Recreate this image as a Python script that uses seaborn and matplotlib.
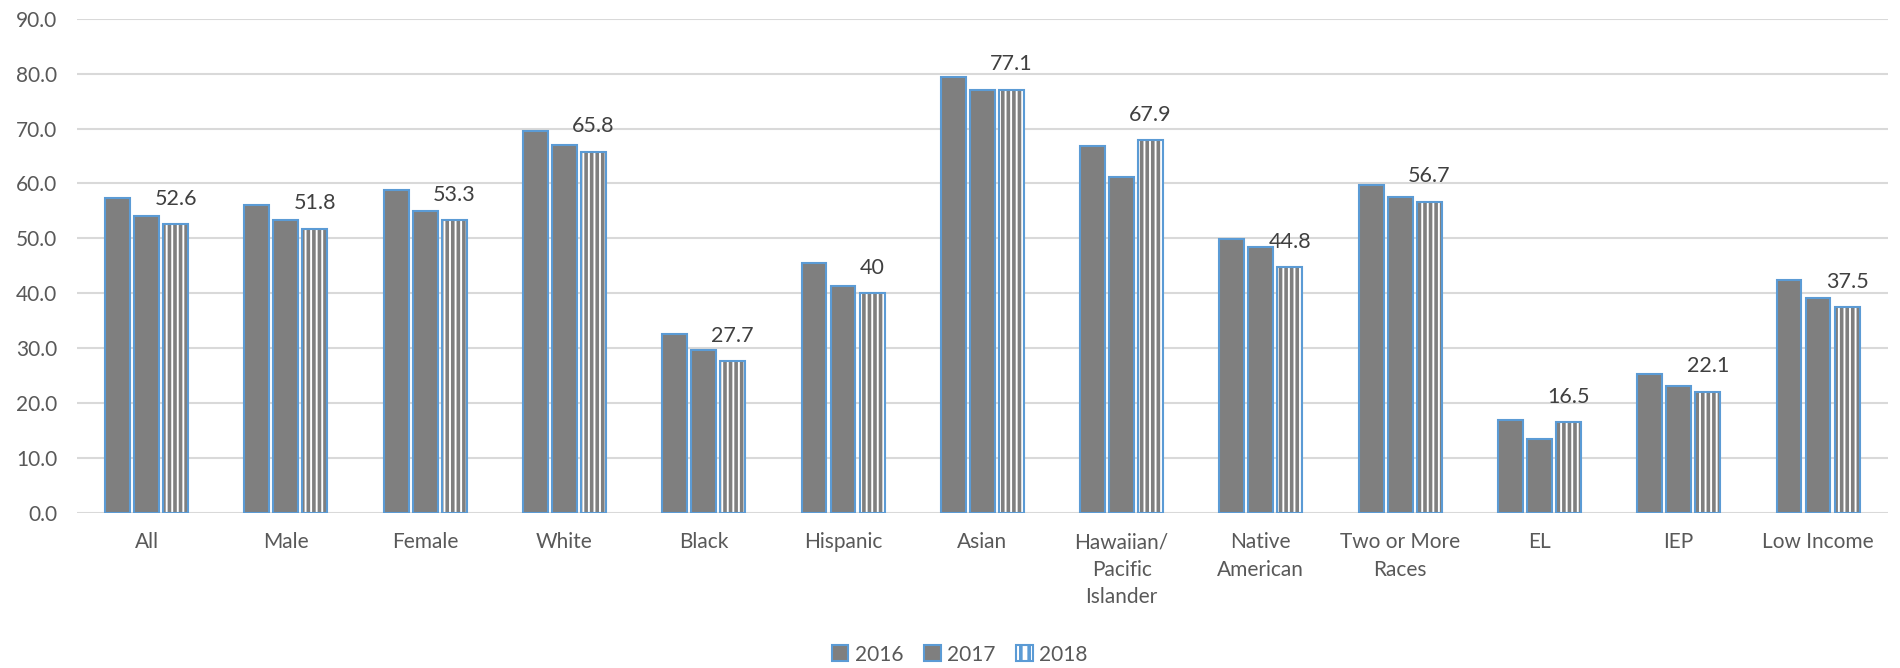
import pandas as pd
import numpy as np
import matplotlib
matplotlib.use("Agg")
import matplotlib.pyplot as plt
import seaborn as sns
from matplotlib.patches import Patch, Rectangle

# Datos
groups = ["All", "Male", "Female", "White", "Black", "Hispanic", "Asian",
          "Hawaiian/\nPacific\nIslander", "Native\nAmerican", "Two or More\nRaces",
          "EL", "IEP", "Low Income"]
years = ["2016", "2017", "2018"]
vals_2016 = [57.4, 56.1, 58.8, 69.5, 32.6, 45.6, 79.4, 66.8, 49.9, 59.7, 17.0, 25.4, 42.4]
vals_2017 = [54.1, 53.3, 55.0, 67.0, 29.7, 41.4, 77.1, 61.2, 48.5, 57.6, 13.5, 23.2, 39.1]
vals_2018 = [52.6, 51.8, 53.3, 65.8, 27.7, 40.0, 77.1, 67.9, 44.8, 56.7, 16.5, 22.1, 37.5]
labels_2018 = ["52.6", "51.8", "53.3", "65.8", "27.7", "40", "77.1", "67.9", "44.8",
               "56.7", "16.5", "22.1", "37.5"]

GRAY = "#7f7f7f"
BLUE = "#5b9bd5"
TEXT = "#595959"

df = pd.DataFrame({
    "group": groups * 3,
    "year": [y for y in years for _ in groups],
    "value": vals_2016 + vals_2017 + vals_2018,
})

sns.set_style("white")
plt.rcParams["font.family"] = ["Lato", "DejaVu Sans"]
plt.rcParams["hatch.linewidth"] = 2.6

fig = plt.figure(figsize=(19, 6.68), dpi=100)
ax = fig.add_axes([0.0405, 0.232, 0.953, 0.740])

sns.barplot(data=df, x="group", y="value", hue="year", order=groups, hue_order=years,
            palette=[GRAY, GRAY, GRAY], width=0.625, gap=0.14,
            edgecolor=BLUE, linewidth=1.5, legend=False, ax=ax, errorbar=None)

# barras 2018: rayado vertical gris, borde azul
n = len(groups)
bars_2018 = ax.patches[2 * n:3 * n]
for p, lab in zip(bars_2018, labels_2018):
    p.set_facecolor("white")
    p.set_edgecolor(GRAY)
    p.set_linewidth(0)
    p.set_hatch("|||")
    ax.add_patch(Rectangle((p.get_x(), p.get_y()), p.get_width(), p.get_height(),
                           fill=False, edgecolor=BLUE, linewidth=1.5, zorder=p.get_zorder() + 0.1))
    ax.annotate(lab, (p.get_x() + p.get_width() / 2, p.get_height()),
                xytext=(0, 11), textcoords="offset points", ha="center", va="bottom",
                fontsize=15.5, color="#404040")

ax.set_ylim(0, 90)
ax.set_xlim(-0.5, n - 0.5)
ax.set_yticks(np.arange(0, 91, 10))
ax.set_yticklabels([f"{v:.1f}" for v in np.arange(0, 91, 10)])
ax.yaxis.grid(True, color="#d9d9d9", linewidth=1.5)
ax.set_axisbelow(True)
sns.despine(ax=ax, left=True, bottom=True)
ax.tick_params(axis="y", length=0, pad=14, labelsize=15, labelcolor=TEXT)
ax.tick_params(axis="x", length=0, pad=14, labelsize=15, labelcolor=TEXT)
for t in ax.get_xticklabels():
    t.set_linespacing(1.45)
    t.set_verticalalignment("top")
ax.set_xlabel("")
ax.set_ylabel("")

handles = [Patch(facecolor=GRAY, edgecolor=BLUE, linewidth=1.5),
           Patch(facecolor=GRAY, edgecolor=BLUE, linewidth=1.5),
           Patch(facecolor="white", edgecolor=BLUE, linewidth=1.5, hatch="||")]
leg = fig.legend(handles, years, loc="center", bbox_to_anchor=(0.505, 0.02),
                 ncol=3, frameon=False, fontsize=15, handlelength=0.8, handleheight=0.8,
                 handletextpad=0.3, columnspacing=1.0)
for t in leg.get_texts():
    t.set_color(TEXT)

fig.savefig("out.png", dpi=100)
